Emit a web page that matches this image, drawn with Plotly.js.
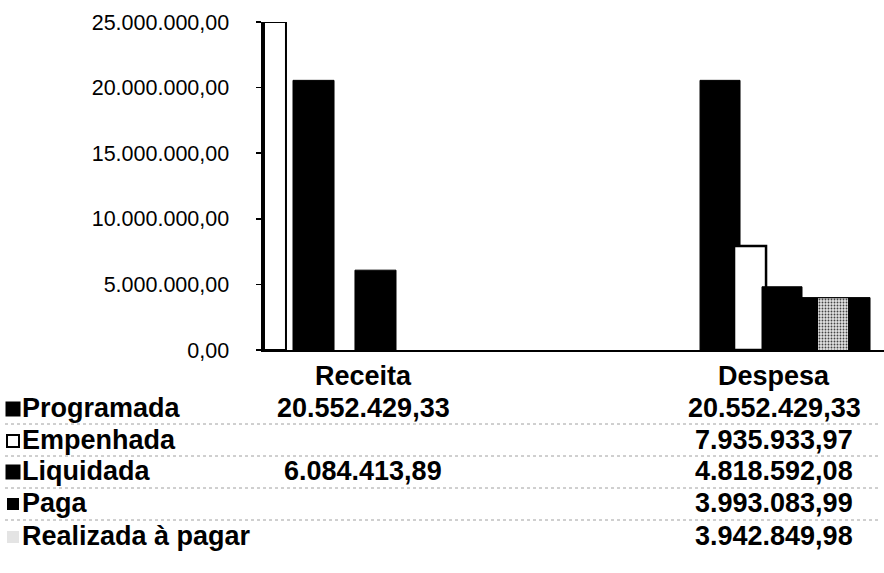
<!DOCTYPE html>
<html>
<head>
<meta charset="utf-8">
<script src="https://cdn.plot.ly/plotly-3.0.1.min.js"></script>
<style>html,body{margin:0;padding:0;background:#fff;}#chart{width:884px;height:573px;}</style>
</head>
<body>
<div id="chart"></div>
<script>
// ---- data ----
var categories = ["Receita", "Despesa"];
var seriesNames = ["Programada", "Empenhada", "Liquidada", "Paga", "Realizada à pagar"];
var programada = [20552429.33, 20552429.33];
var empenhada  = [null, 7935933.97];
var liquidada  = [6084413.89, 4818592.08];
var paga       = [null, 3993083.99];
var realizada  = [null, 3942849.98];
// unlabeled white bar drawn at the left of "Receita" (reaches the top of the axis)
var receitaExtra = [25000000, null];
var yTickVals = [0, 5000000, 10000000, 15000000, 20000000, 25000000];

// ---- helpers ----
function fmt(v) {
  if (v === null || v === undefined) return "";
  var parts = v.toFixed(2).split(".");
  var intPart = parts[0].replace(/\B(?=(\d{3})+(?!\d))/g, ".");
  return intPart + "," + parts[1];
}
var xs = [0, 1];
var FONT = "Liberation Sans, Arial, sans-serif";
var TFS = 27; // table font size

// geometry (offset, width in category units) per category
var geo = {
  extra:      {off: [-0.2409, 0], w: [0.0535, 0.05]},
  programada: {off: [-0.1703, -0.180], w: [0.0998, 0.0973]},
  empenhada:  {off: [0, -0.0973], w: [0.05, 0.0779]},
  liquidada:  {off: [-0.0195, -0.0292], w: [0.0998, 0.0973]},
  paga:       {off: [0, 0.0681], w: [0.05, 0.1655]},
  realizada:  {off: [0, 0.1071], w: [0.05, 0.073]}
};

var traces = [
  {type: "bar", x: xs, y: receitaExtra, name: "", showlegend: false, hoverinfo: "skip",
   offset: geo.extra.off, width: geo.extra.w,
   marker: {color: "#ffffff", line: {color: "#000", width: 2}}},
  {type: "bar", x: xs, y: programada, name: seriesNames[0],
   offset: geo.programada.off, width: geo.programada.w,
   marker: {color: "#000000", line: {color: "#000", width: 1}}},
  {type: "bar", x: xs, y: empenhada, name: seriesNames[1],
   offset: geo.empenhada.off, width: geo.empenhada.w,
   marker: {color: "#ffffff", line: {color: "#000", width: 2.5}}},
  {type: "bar", x: xs, y: liquidada, name: seriesNames[2],
   offset: geo.liquidada.off, width: geo.liquidada.w,
   marker: {color: "#000000", line: {color: "#000", width: 1}}},
  {type: "bar", x: xs, y: paga, name: seriesNames[3],
   offset: geo.paga.off, width: geo.paga.w,
   marker: {color: "#000000", line: {color: "#000", width: 1}}},
  {type: "bar", x: xs, y: realizada, name: seriesNames[4],
   offset: geo.realizada.off, width: geo.realizada.w,
   marker: {color: "#c8c8c8", line: {color: "#888", width: 0},
            pattern: {shape: ".", bgcolor: "#e2e2e2", fgcolor: "#444", size: 3, solidity: 0.3}}}
];

// ---- data table under the chart ----
function py(p) { return (350 - p) / 328; }   // pixel row -> paper y
function pxp(p) { return (p - 263) / 621; }  // pixel col -> paper x
var rowPix = [408, 440, 471, 503, 536];
var headerPix = 376;
var keys = [
  {fill: "#000", line: "#000", size: 13},
  {fill: "#fff", line: "#000", size: 12},
  {fill: "#000", line: "#000", size: 13},
  {fill: "#000", line: "#000", size: 10},
  {fill: "#e4e4e4", line: "#e4e4e4", size: 10}
];
var rows = [programada, empenhada, liquidada, paga, realizada];
var annotations = [];
var shapes = [];
categories.forEach(function (c, i) {
  annotations.push({xref: "x", yref: "paper", x: xs[i], y: py(headerPix), text: "<b>" + c + "</b>",
    showarrow: false, xanchor: "center", yanchor: "middle", font: {family: FONT, size: TFS, color: "#000"}});
});
rows.forEach(function (vals, k) {
  var k0 = keys[k], cy = rowPix[k] + 1, cx = 13;
  shapes.push({type: "rect", xref: "paper", yref: "paper",
    x0: pxp(cx - k0.size / 2), x1: pxp(cx + k0.size / 2), y0: py(cy + k0.size / 2), y1: py(cy - k0.size / 2),
    fillcolor: k0.fill, line: {color: k0.line, width: 2}});
  annotations.push({xref: "paper", yref: "paper", x: pxp(20), y: py(rowPix[k]),
    text: "<b>" + seriesNames[k] + "</b>",
    showarrow: false, xanchor: "left", yanchor: "middle", font: {family: FONT, size: TFS, color: "#000"}});
  vals.forEach(function (v, i) {
    if (v === null) return;
    annotations.push({xref: "x", yref: "paper", x: xs[i], y: py(rowPix[k]), text: "<b>" + fmt(v) + "</b>",
      showarrow: false, xanchor: "center", yanchor: "middle", font: {family: FONT, size: TFS, color: "#000"}});
  });
});
[424, 456, 488, 520].forEach(function (p) {
  shapes.push({type: "line", xref: "paper", yref: "paper", x0: pxp(5), x1: pxp(880), y0: py(p), y1: py(p),
    line: {color: "#a0a0a0", width: 1, dash: "dot"}});
});

var layout = {
  width: 884, height: 573,
  margin: {l: 263, r: 0, t: 22, b: 223, pad: 0},
  paper_bgcolor: "#fff", plot_bgcolor: "#fff",
  barmode: "overlay",
  showlegend: false,
  separators: ",.",
  font: {family: FONT, color: "#000"},
  xaxis: {range: [-0.2433, 1.2676], showticklabels: false, showgrid: false, zeroline: false,
          showline: true, linecolor: "#000", linewidth: 2, ticks: "", fixedrange: true},
  yaxis: {range: [0, 25000000], tickvals: yTickVals, tickformat: ",.2f", showgrid: false, zeroline: false,
          showline: true, linecolor: "#000", linewidth: 2.5, ticks: "outside", ticklen: 5, tickwidth: 1.5,
          tickcolor: "#000", ticklabelstandoff: 22, tickfont: {family: FONT, size: 21.5, color: "#000"}},
  annotations: annotations,
  shapes: shapes
};
Plotly.newPlot("chart", traces, layout, {staticPlot: true, displayModeBar: false});
</script>
</body>
</html>
